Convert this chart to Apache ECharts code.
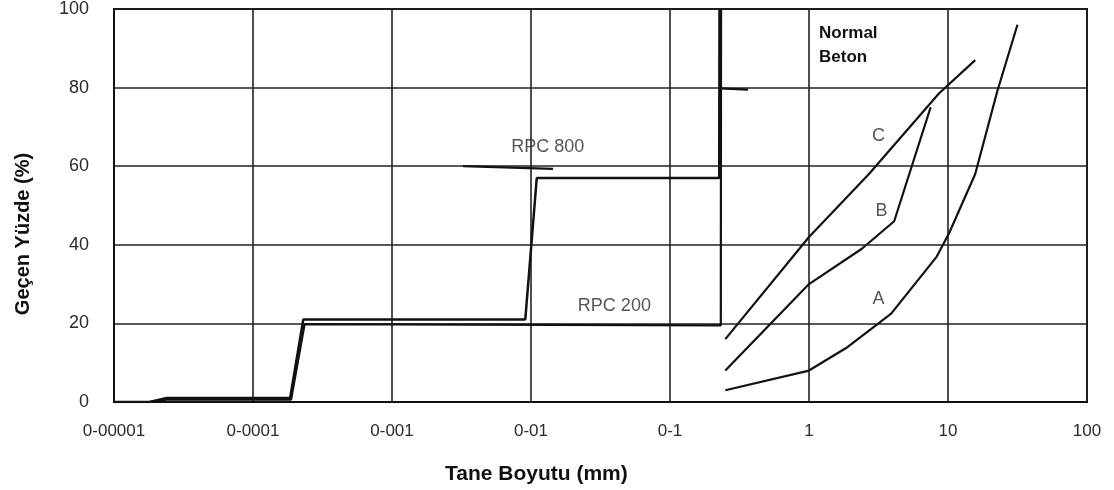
<!DOCTYPE html>
<html><head><meta charset="utf-8">
<script src="https://cdn.jsdelivr.net/npm/echarts@6/dist/echarts.min.js"></script>
<style>html,body{margin:0;padding:0;background:#fff}#c{width:1114px;height:490px}</style>
</head><body><div id="c"></div>
<script>
// Tick labels for the log x-axis (decades 1e-5 .. 1e2)
const xTickLabels = ['0-00001','0-0001','0-001','0-01','0-1','1','10','100'];
const yTicks = [0,20,40,60,80,100];

// [particle size mm, passing %]
const rpc800 = [[0.00001,0],[0.000018,0],[0.000024,1],[0.000185,1],[0.00023,21],[0.0091,21],[0.011,57],[0.226,57],[0.227,100]];
const rpc200 = [[0.00001,0],[0.000018,0],[0.000024,0.6],[0.000188,0.6],[0.000235,19.8],[0.232,19.5],[0.233,100]];
const curveA = [[0.25,3],[1,8],[1.9,14],[3.9,22.5],[8.3,37],[10.2,43],[15.7,58],[22.6,79],[31.6,96]];
const curveB = [[0.25,8],[1,30],[2.4,39],[4.1,46],[7.5,75]];
const curveC = [[0.25,16],[1,42],[2.7,58],[8.6,78.5],[15.7,87]];
const leader800 = [[0.00324,60],[0.0144,59.3]];
const leaderTop = [[0.227,79.8],[0.364,79.5]];

const labels = [
  {name:'RPC 800', value:[0.0132,65]},
  {name:'RPC 200', value:[0.0398,24.3]},
  {name:'C', value:[3.16,67.6]},
  {name:'B', value:[3.33,48.6]},
  {name:'A', value:[3.16,26.3]}
];

const chart = echarts.init(document.getElementById('c'));
const lineStyle = w => ({color:'#111', width:w});
function ln(data,w){return {type:'line', data, symbol:'none', lineStyle:lineStyle(w), silent:true, animation:false};}

chart.setOption({
  animation:false,
  grid:{left:114, right:27, top:8, bottom:88, show:true, borderColor:'#111', borderWidth:2},
  xAxis:{type:'log', logBase:10, min:0.00001, max:100,
    axisLine:{show:true, lineStyle:{color:'#111', width:2}},
    axisTick:{show:false}, minorTick:{show:false},
    axisLabel:{color:'#2a2a2a', fontFamily:'Liberation Sans, Arial', fontSize:17, margin:21,
      formatter:v=>xTickLabels[Math.round(Math.log10(v))+5]},
    splitLine:{show:true, lineStyle:{color:'#222', width:1.6}}
  },
  yAxis:{type:'value', min:0, max:100, interval:20,
    axisLine:{show:true, lineStyle:{color:'#111', width:2}},
    axisTick:{show:false},
    axisLabel:{color:'#2a2a2a', fontFamily:'Liberation Sans, Arial', fontSize:18, margin:25},
    splitLine:{show:true, lineStyle:{color:'#222', width:1.6}}
  },
  graphic:[
    {type:'text', left:445, top:464, style:{text:'Tane Boyutu (mm)', font:'bold 21px "Liberation Sans", Arial', fill:'#111'}},
    {type:'text', x:23, y:234, rotation:Math.PI/2, style:{text:'Geçen Yüzde (%)', font:'bold 20px "Liberation Sans", Arial', fill:'#111', align:'center', verticalAlign:'middle'}},
    {type:'text', left:819, top:21, style:{text:'Normal\nBeton', font:'bold 17px "Liberation Sans", Arial', fill:'#111', lineHeight:24}}
  ],
  series:[
    ln(rpc200,2.2), ln(rpc800,2.5), ln(curveA,2.2), ln(curveB,2.2), ln(curveC,2.2),
    ln(leader800,2.2), ln(leaderTop,2.2),
    {type:'scatter', data:labels, symbolSize:0, silent:true,
      label:{show:true, position:'inside', formatter:p=>p.name, color:'#2a2a2a', fontFamily:'Liberation Sans, Arial', fontSize:18}}
  ]
});
</script></body></html>
